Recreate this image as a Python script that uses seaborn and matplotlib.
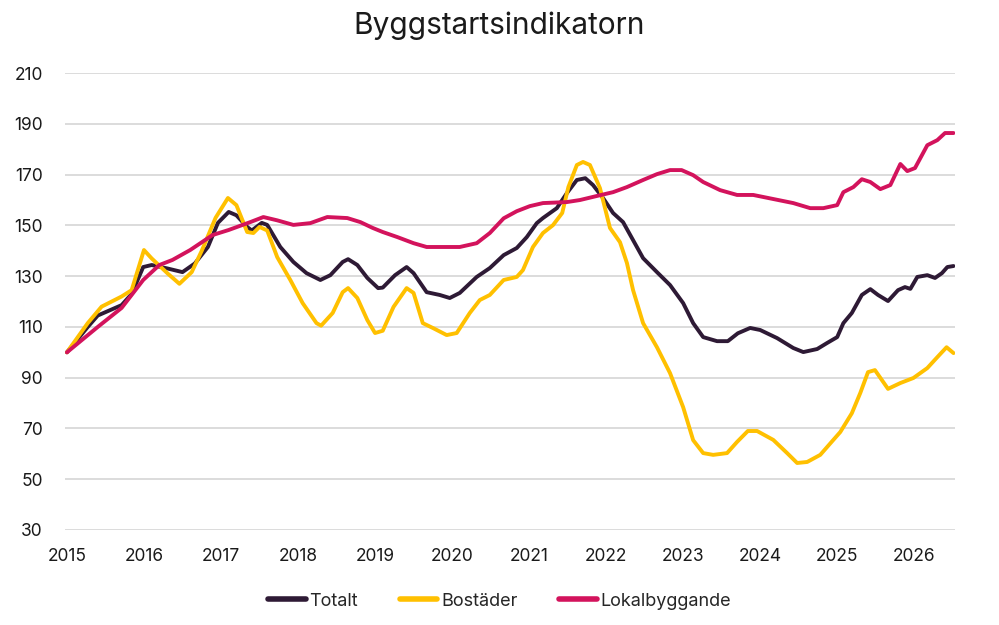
import pandas as pd
import matplotlib.pyplot as plt
import seaborn as sns

# (decimalår, indexvärde 2015 = 100)
totalt_x = [2015.0, 2015.27, 2015.4, 2015.71, 2015.84, 2015.99, 2016.1, 2016.31, 2016.5, 2016.66,
            2016.83, 2016.96, 2017.1, 2017.2, 2017.34, 2017.4, 2017.53, 2017.6, 2017.77, 2017.94,
            2018.11, 2018.29, 2018.42, 2018.58, 2018.65, 2018.77, 2018.9, 2019.04, 2019.1, 2019.26,
            2019.41, 2019.5, 2019.67, 2019.84, 2019.97, 2020.1, 2020.32, 2020.49, 2020.67, 2020.84,
            2020.97, 2021.1, 2021.18, 2021.36, 2021.49, 2021.62, 2021.73, 2021.83, 2021.96, 2022.09,
            2022.22, 2022.35, 2022.48, 2022.66, 2022.83, 2023.0, 2023.13, 2023.26, 2023.44, 2023.58,
            2023.71, 2023.87, 2024.0, 2024.22, 2024.43, 2024.56, 2024.74, 2024.87, 2025.0, 2025.08,
            2025.19, 2025.32, 2025.43, 2025.53, 2025.66, 2025.79, 2025.88, 2025.95, 2026.04, 2026.17,
            2026.27, 2026.36, 2026.43, 2026.51]
totalt_y = [100, 110, 114.5, 118.6, 123, 133.6, 134.4, 133, 131.6, 135,
            141.5, 151, 155.3, 154, 149.4, 148, 151, 150.2, 141.5, 135.6,
            131.2, 128.5, 130.4, 135.6, 136.7, 134.4, 129.3, 125.3, 125.5, 130.4,
            133.6, 131.2, 123.7, 122.6, 121.4, 123.4, 129.7, 133.2, 138.3, 141.1,
            145.4, 150.9, 152.9, 156.8, 162.7, 167.9, 168.6, 165.9, 160.8, 154.9,
            151.3, 144.2, 137.1, 131.6, 126.5, 119.4, 111.5, 106, 104.4, 104.4,
            107.5, 109.6, 108.8, 105.6, 101.7, 100.1, 101.3, 103.7, 106, 111.5,
            115.5, 122.6, 124.9, 122.6, 120.2, 124.5, 125.7, 125, 129.7, 130.4,
            129.3, 131.2, 133.6, 134]

bostader_x = [2015.0, 2015.27, 2015.45, 2015.71, 2015.84, 2016.0, 2016.1, 2016.31, 2016.46, 2016.62,
              2016.75, 2016.93, 2017.09, 2017.2, 2017.34, 2017.42, 2017.5, 2017.6, 2017.73, 2017.9,
              2018.06, 2018.24, 2018.3, 2018.45, 2018.58, 2018.65, 2018.77, 2018.9, 2019.0, 2019.1,
              2019.24, 2019.41, 2019.5, 2019.62, 2019.75, 2019.93, 2020.06, 2020.23, 2020.36, 2020.49,
              2020.67, 2020.84, 2020.92, 2021.05, 2021.18, 2021.31, 2021.43, 2021.51, 2021.62, 2021.7,
              2021.79, 2021.92, 2022.05, 2022.18, 2022.27, 2022.35, 2022.48, 2022.66, 2022.83, 2023.0,
              2023.13, 2023.26, 2023.39, 2023.57, 2023.7, 2023.84, 2023.96, 2024.17, 2024.35, 2024.48,
              2024.61, 2024.78, 2024.95, 2025.04, 2025.19, 2025.3, 2025.4, 2025.49, 2025.66, 2025.82,
              2025.99, 2026.17, 2026.3, 2026.42, 2026.51]
bostader_y = [100, 111.5, 118, 122, 124.5, 140.3, 137, 131, 127, 131.6,
              140, 153, 160.8, 158, 147.4, 147, 149.4, 148, 137.5, 128.5,
              119.4, 111.5, 110.5, 115.5, 123.7, 125.3, 121.4, 112.7, 107.6, 108.5,
              117.9, 125.3, 123.4, 111.5, 109.6, 106.8, 107.6, 115.5, 120.6, 122.6,
              128.5, 129.7, 132.4, 141.5, 147, 150.1, 154.9, 165.1, 173.8, 175,
              173.8, 164.7, 149, 143.4, 135.2, 124.5, 111.5, 102, 91.8, 78.4,
              65.4, 60.3, 59.6, 60.3, 64.7, 69, 69, 65.5, 60.3, 56.4,
              56.8, 59.6, 65.5, 68.6, 76, 84, 92.2, 93, 85.6, 87.9,
              89.9, 93.8, 98.1, 102, 99.7]

lokal_x = [2015.0, 2015.4, 2015.71, 2015.99, 2016.2, 2016.37, 2016.6, 2016.89, 2017.1, 2017.38,
           2017.55, 2017.73, 2017.94, 2018.16, 2018.38, 2018.64, 2018.81, 2018.97, 2019.1, 2019.29,
           2019.5, 2019.67, 2019.88, 2020.1, 2020.32, 2020.49, 2020.67, 2020.84, 2021.01, 2021.18,
           2021.49, 2021.66, 2021.88, 2022.09, 2022.27, 2022.48, 2022.66, 2022.83, 2022.98, 2023.13,
           2023.26, 2023.48, 2023.7, 2023.91, 2024.17, 2024.43, 2024.65, 2024.82, 2025.0, 2025.08,
           2025.21, 2025.32, 2025.43, 2025.56, 2025.69, 2025.82, 2025.91, 2026.01, 2026.17, 2026.3,
           2026.4, 2026.51]
lokal_y = [100, 110, 117.5, 128.5, 134.4, 136.4, 140.3, 146.2, 148.2, 151.3,
           153.3, 152, 150.2, 150.9, 153.3, 152.9, 151.3, 149, 147.4, 145.4,
           143, 141.5, 141.5, 141.5, 143, 147, 152.8, 155.6, 157.6, 158.8,
           159.2, 160, 161.6, 163.1, 165.1, 167.9, 170.2, 171.8, 171.8, 169.8,
           167.1, 163.9, 162, 162, 160.4, 158.8, 156.8, 156.8, 158, 163.1,
           165.1, 168.2, 167.1, 164.3, 165.9, 174.2, 171.4, 172.6, 181.6, 183.6,
           186.4, 186.4]

series = ["Totalt", "Bostäder", "Lokalbyggande"]
colors = ["#2e1a35", "#ffc000", "#d3135c"]
years = list(range(2015, 2027))
yticks = list(range(30, 211, 20))

df = pd.concat([
    pd.DataFrame({"år": totalt_x, "index": totalt_y, "serie": "Totalt"}),
    pd.DataFrame({"år": bostader_x, "index": bostader_y, "serie": "Bostäder"}),
    pd.DataFrame({"år": lokal_x, "index": lokal_y, "serie": "Lokalbyggande"}),
])

sns.set_theme(style="white")
plt.rcParams["font.family"] = ["Inter", "DejaVu Sans"]

fig = plt.figure(figsize=(9.99, 6.25), dpi=100)
ax = fig.add_axes([0.065, 0.152, 0.891, 0.731])

sns.lineplot(data=df, x="år", y="index", hue="serie", hue_order=series,
             palette=colors, linewidth=2.8, estimator=None, ax=ax, legend=False)

ax.set_xlim(2014.974, 2026.53)
ax.set_ylim(30, 210)
ax.set_xticks(years)
ax.set_xticklabels([str(y) for y in years])
ax.set_yticks(yticks)
ax.tick_params(axis="both", length=0, labelsize=12.5, colors="#1a1a1a")
ax.tick_params(axis="x", pad=13)
ax.tick_params(axis="y", pad=16)
ax.grid(axis="y", color="#d9d9d9", linewidth=1.3)
ax.set_axisbelow(True)
sns.despine(ax=ax, left=True, bottom=True)
ax.set_xlabel("")
ax.set_ylabel("")

fig.suptitle("Byggstartsindikatorn", x=0.5, y=0.982, fontsize=21.5, color="#1a1a1a")

handles = [plt.Line2D([], [], color=c, linewidth=4) for c in colors]
fig.legend(handles, series, loc="center", bbox_to_anchor=(0.5, 0.038), ncol=3,
           frameon=False, fontsize=13, handlelength=2.1, handletextpad=0.2,
           columnspacing=2.3)

fig.savefig("out.png", dpi=100)
